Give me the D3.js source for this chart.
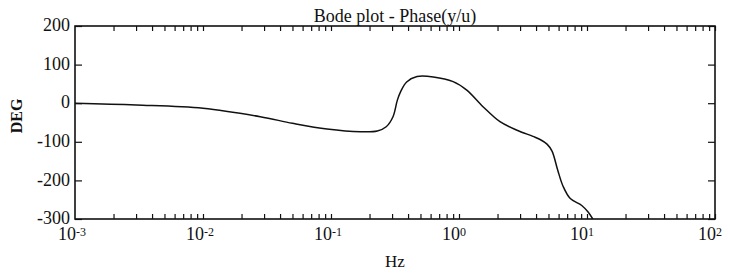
<!DOCTYPE html>
<html>
<head>
<meta charset="utf-8">
<script src="https://cdn.jsdelivr.net/npm/d3@7"></script>
<style>
  html, body { margin: 0; padding: 0; background: #fff; }
  svg { display: block; }
  text { font-family: "Liberation Serif", "Times New Roman", serif; fill: #111; }
</style>
</head>
<body>
<svg id="chart" width="730" height="278"></svg>
<script>
// phase curve
const freqHz = [0.001, 0.003, 0.01, 0.028, 0.05, 0.093, 0.17, 0.23, 0.27, 0.305, 0.33, 0.35, 0.39, 0.47, 0.63, 0.9, 1.15, 1.54, 2.09, 2.84, 3.78, 4.3, 4.87, 5.33, 5.9, 6.5, 7.4, 9.1, 10.2, 11.1];
const phaseDeg = [0, -4.5, -13, -35, -52, -67, -74, -72, -61, -35, 8, 30, 55, 69, 68, 56, 34, -9, -48, -70, -86, -94, -106, -124, -173, -215, -247, -265, -282, -300];

const yTicks = [200, 100, 0, -100, -200, -300];
const decadeExps = [-3, -2, -1, 0, 1, 2];
const titleText = "Bode plot - Phase(y/u)";
const xLabel = "Hz";
const yLabel = "DEG";

const svg = d3.select("#chart");
const margin = { left: 75, right: 15, top: 26, bottom: 59 };
const width = 730 - margin.left - margin.right;
const height = 278 - margin.top - margin.bottom;

const x = d3.scaleLog().domain([1e-3, 1e2]).range([0, width]);
const y = d3.scaleLinear().domain([-300, 200]).range([height, 0]);

const g = svg.append("g").attr("transform", `translate(${margin.left},${margin.top})`);

// minor ticks 2..10 in each decade
const minorTicks = [];
decadeExps.slice(0, -1).forEach((e) => {
  for (let k = 2; k <= 10; k++) minorTicks.push(k * Math.pow(10, e));
});

const tickStyle = (sel) => {
  sel.select(".domain").remove();
  sel.selectAll(".tick line").attr("stroke", "#111").attr("stroke-width", 1.2);
};

g.append("g")
  .attr("transform", `translate(0,${height})`)
  .call(d3.axisBottom(x).tickValues(minorTicks).tickSize(-5).tickFormat(""))
  .call(tickStyle);

g.append("g")
  .call(d3.axisTop(x).tickValues(minorTicks).tickSize(-5).tickFormat(""))
  .call(tickStyle);

g.append("g")
  .call(d3.axisLeft(y).tickValues(yTicks).tickSize(-7).tickPadding(5).tickFormat((d) => String(d)))
  .call(tickStyle)
  .call((sel) => sel.selectAll("text").attr("font-size", 18).attr("dy", "0.26em").attr("fill", "#111"));

g.append("g")
  .attr("transform", `translate(${width},0)`)
  .call(d3.axisRight(y).tickValues(yTicks).tickSize(-7).tickFormat(""))
  .call(tickStyle);

// x decade labels: "10" ends at the tick, exponent follows as superscript
const xl = g.append("g").attr("class", "xlabels");
decadeExps.forEach((e) => {
  const px = x(Math.pow(10, e)) + 1;
  xl.append("text")
    .attr("x", px)
    .attr("y", height + 21)
    .attr("text-anchor", "end")
    .attr("font-size", 18)
    .text("10");
  xl.append("text")
    .attr("x", px)
    .attr("y", height + 17)
    .attr("text-anchor", "start")
    .attr("font-size", 12)
    .text(String(e));
});

// frame
g.append("rect")
  .attr("width", width)
  .attr("height", height)
  .attr("fill", "none")
  .attr("stroke", "#111")
  .attr("stroke-width", 1.6);

g.append("clipPath").attr("id", "plot-clip")
  .append("rect").attr("width", width).attr("height", height);

const line = d3.line()
  .x((d, i) => x(freqHz[i]))
  .y((d) => y(d))
  .curve(d3.curveCatmullRom.alpha(0.5));

g.append("path")
  .datum(phaseDeg)
  .attr("clip-path", "url(#plot-clip)")
  .attr("fill", "none")
  .attr("stroke", "#111")
  .attr("stroke-width", 1.5)
  .attr("d", line);

svg.append("text")
  .attr("x", margin.left + width / 2)
  .attr("y", 22)
  .attr("text-anchor", "middle")
  .attr("font-size", 18)
  .text(titleText);

svg.append("text")
  .attr("x", margin.left + width / 2)
  .attr("y", 267)
  .attr("text-anchor", "middle")
  .attr("font-size", 17)
  .text(xLabel);

svg.append("text")
  .attr("transform", `translate(22,116) rotate(-90)`)
  .attr("text-anchor", "middle")
  .attr("font-size", 16)
  .attr("font-weight", "bold")
  .text(yLabel);
</script>
</body>
</html>
